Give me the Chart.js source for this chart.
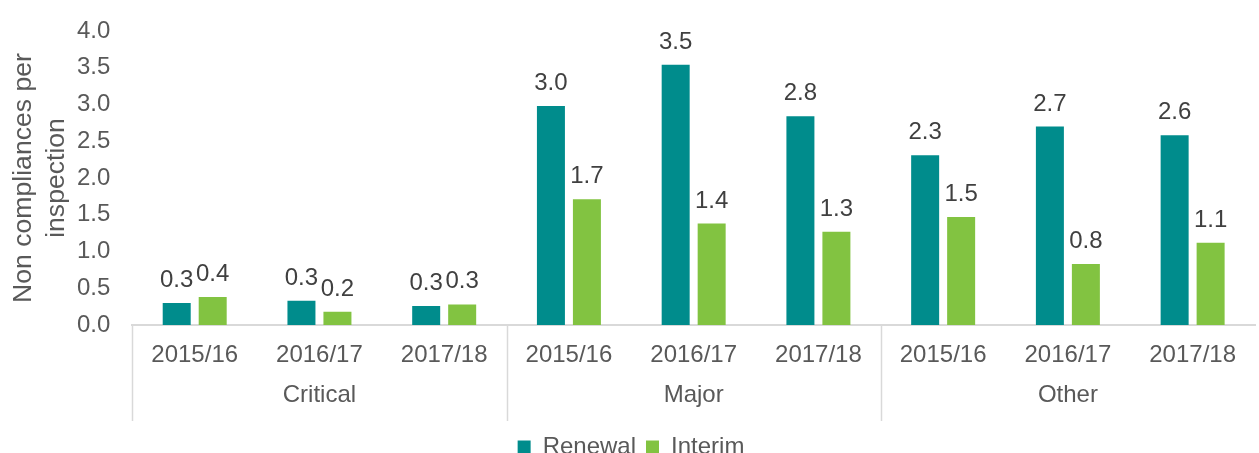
<!DOCTYPE html>
<html>
<head>
<meta charset="utf-8">
<script src="https://cdn.jsdelivr.net/npm/chart.js@4.4.1/dist/chart.umd.min.js"></script>
<style>
  html, body { margin: 0; padding: 0; background: #fff; }
  #wrap { width: 1259px; height: 453px; position: relative; }
</style>
</head>
<body>
<div id="wrap"><canvas id="chart"></canvas></div>
<script>
// données
const years = ['2015/16', '2016/17', '2017/18'];
const groups = ['Critical', 'Major', 'Other'];
const renewal = [0.30, 0.33, 0.26, 2.98, 3.54, 2.84, 2.31, 2.70, 2.58];
const interim = [0.38, 0.18, 0.28, 1.71, 1.38, 1.27, 1.47, 0.83, 1.12];
const seriesNames = ['Renewal', 'Interim'];
const yMax = 4.0;
const yStep = 0.5;

const FONT = '"Liberation Sans", Arial, sans-serif';
const TEAL = 'rgb(0,140,140)';
const GREEN = 'rgb(130,195,65)';

// une étiquette par catégorie, le nom du groupe sous l'année du milieu
const labels = [];
groups.forEach(g => {
    years.forEach((y, i) => labels.push([y, i === 1 ? g : '']));
});

const valueLabels = {
    id: 'valueLabels',
    afterDatasetsDraw(chart) {
        const ctx = chart.ctx;
        ctx.save();
        ctx.font = '24px ' + FONT;
        ctx.fillStyle = '#404040';
        ctx.textAlign = 'center';
        ctx.textBaseline = 'alphabetic';
        chart.data.datasets.forEach((ds, di) => {
            chart.getDatasetMeta(di).data.forEach((bar, i) => {
                ctx.fillText(ds.data[i].toFixed(1), bar.x, bar.y - 16);
            });
        });
        ctx.restore();
    }
};

const groupLines = {
    id: 'groupLines',
    afterDraw(chart) {
        const x = chart.scales.x;
        const ctx = chart.ctx;
        const half = (x.getPixelForValue(1) - x.getPixelForValue(0)) / 2;
        ctx.save();
        ctx.strokeStyle = '#d9d9d9';
        ctx.lineWidth = 1.5;
        for (let i = 0; i < labels.length; i += years.length) {
            const px = Math.round(x.getPixelForValue(i) - half) + 0.5;
            ctx.beginPath();
            ctx.moveTo(px, x.top);
            ctx.lineTo(px, x.bottom - 4);
            ctx.stroke();
        }
        ctx.restore();
    }
};

new Chart(document.getElementById('chart'), {
    type: 'bar',
    data: {
        labels: labels,
        datasets: [
            { label: seriesNames[0], data: renewal, backgroundColor: TEAL },
            { label: seriesNames[1], data: interim, backgroundColor: GREEN }
        ]
    },
    options: {
        responsive: true,
        maintainAspectRatio: false,
        animation: false,
        categoryPercentage: 0.577,
        barPercentage: 0.778,
        layout: { padding: { top: 31, right: 4, left: 7, bottom: -16 } },
        scales: {
            x: {
                grid: { display: false, drawTicks: false },
                border: { display: true, color: '#d9d9d9', width: 2 },
                ticks: {
                    color: '#595959',
                    font: { family: FONT, size: 24, lineHeight: 1.667 },
                    padding: 10,
                    maxRotation: 0,
                    autoSkip: false
                }
            },
            y: {
                min: 0,
                max: yMax,
                grid: { display: false, drawTicks: false },
                border: { display: false },
                // le padding des graduations ne doit pas pousser le haut du graphique
                afterFit: s => { s.paddingTop = 0; s.paddingBottom = 0; },
                ticks: {
                    stepSize: yStep,
                    color: '#595959',
                    font: { family: FONT, size: 24 },
                    padding: 22,
                    callback: v => v.toFixed(1)
                },
                title: {
                    display: true,
                    text: ['Non compliances per', 'inspection'],
                    color: '#595959',
                    font: { family: FONT, size: 26.6, lineHeight: 1.24 },
                    padding: { top: 0, bottom: -18 }
                }
            }
        },
        plugins: {
            legend: {
                position: 'bottom',
                labels: {
                    color: '#595959',
                    font: { family: FONT, size: 24 },
                    boxWidth: 13,
                    boxHeight: 13,
                    padding: 10
                }
            },
            tooltip: { enabled: false }
        }
    },
    plugins: [valueLabels, groupLines]
});
</script>
</body>
</html>
